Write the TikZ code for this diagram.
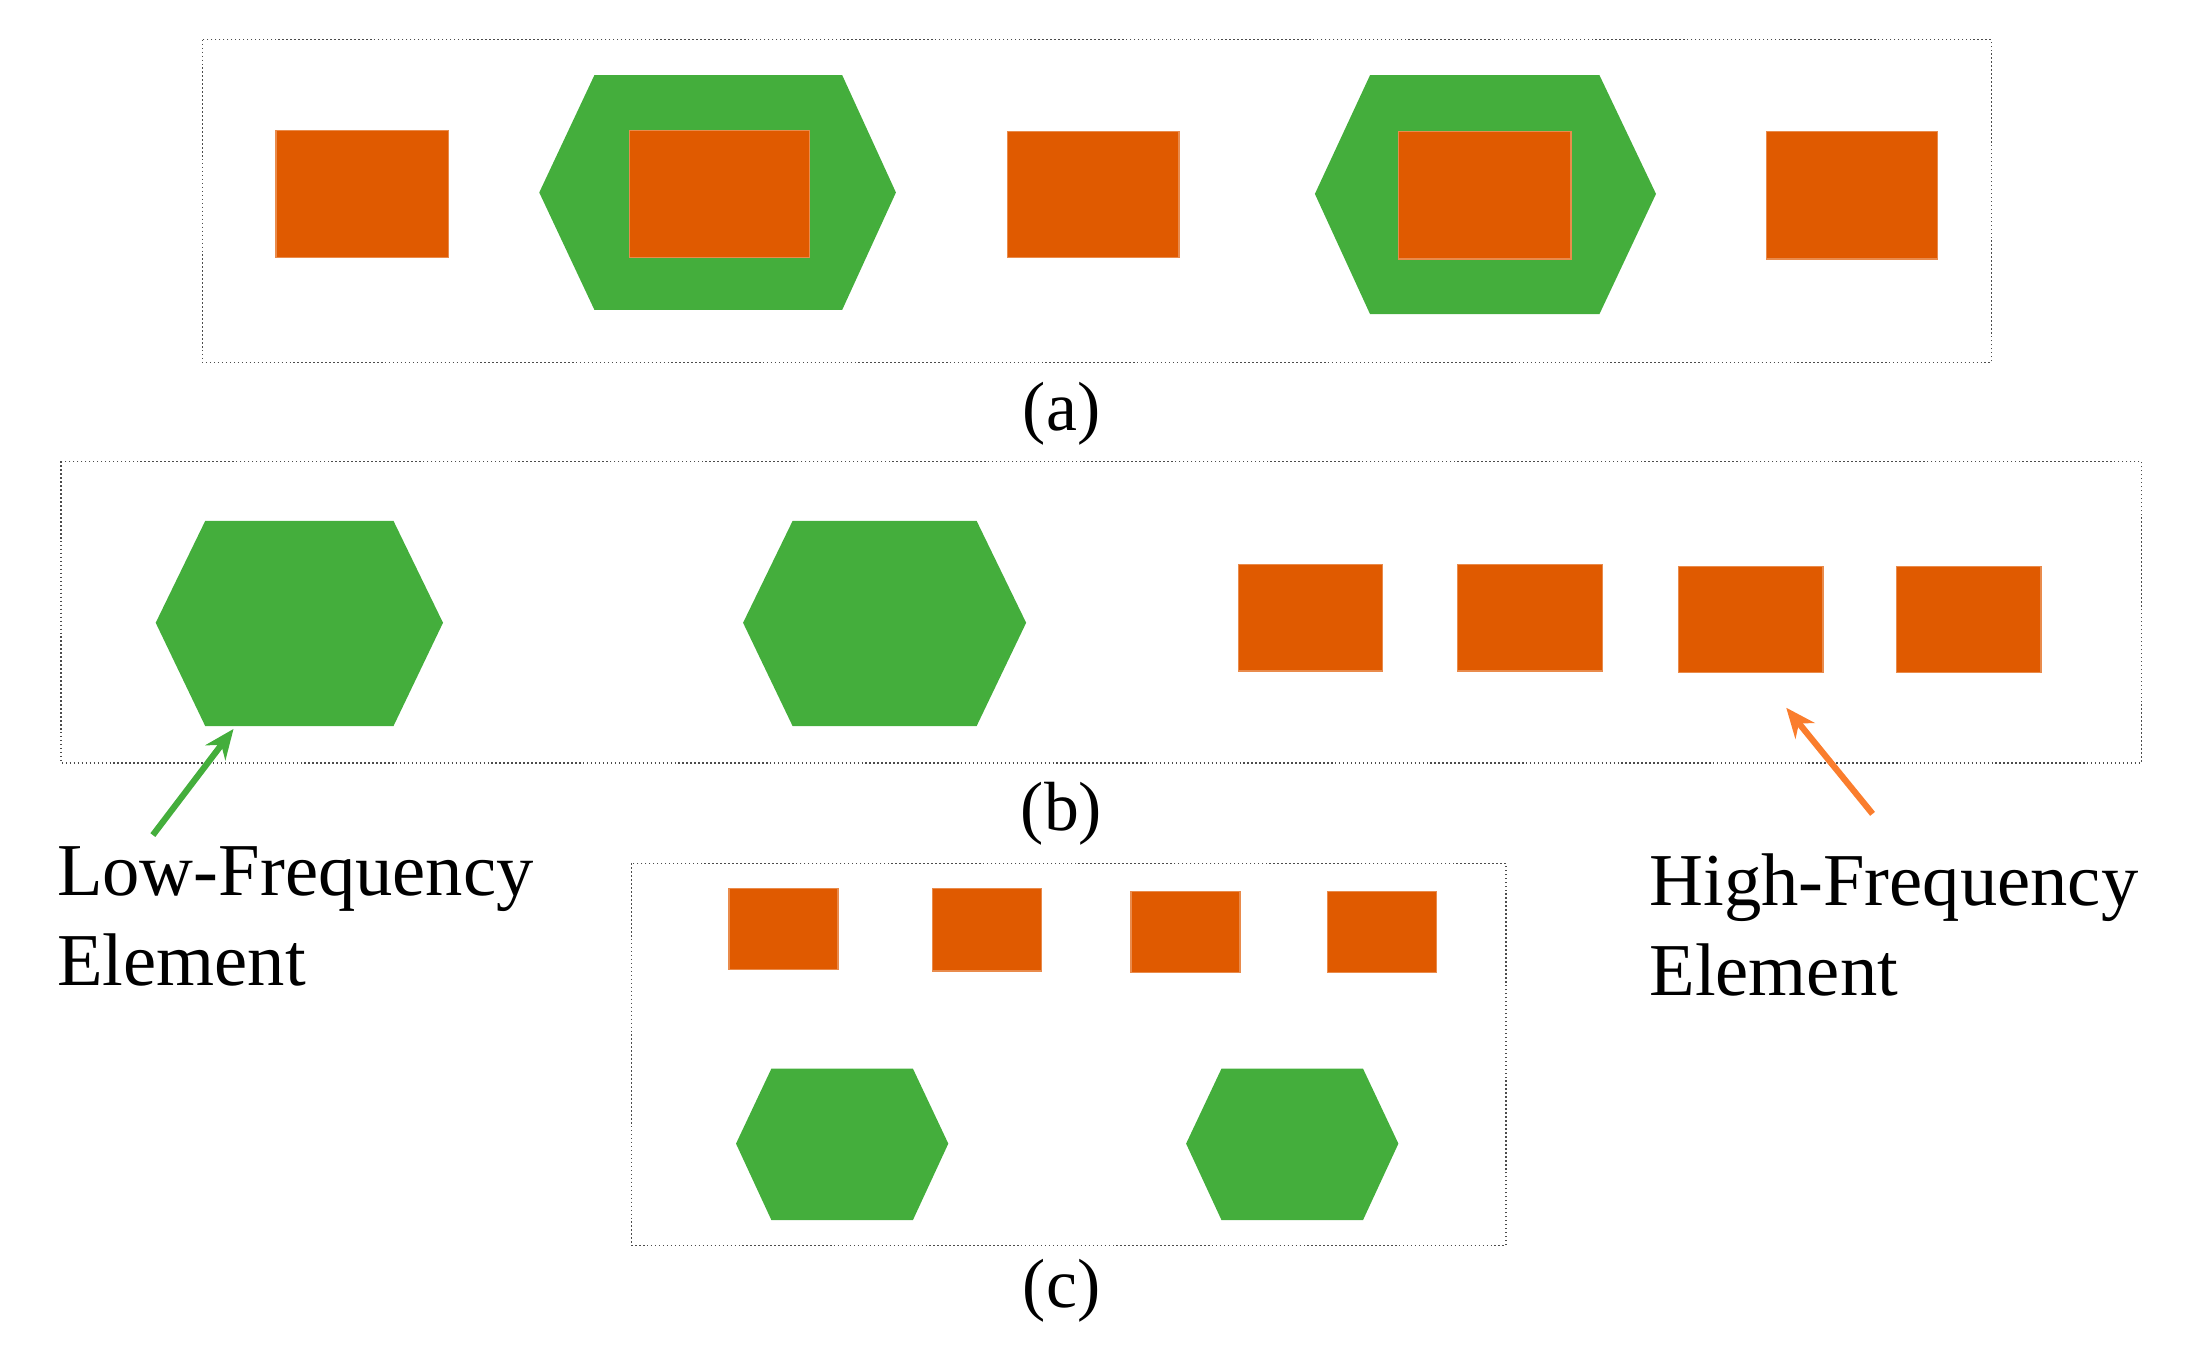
\documentclass[tikz,border=0pt]{standalone}
\usepackage{fontspec}
\setmainfont{Liberation Serif}
\usetikzlibrary{arrows.meta}
\definecolor{org}{RGB}{224,90,0}
\definecolor{grn}{RGB}{68,174,60}
\definecolor{oarr}{RGB}{250,125,45}
\begin{document}
\begin{tikzpicture}[x=0.02cm,y=-0.02cm,
  box/.style={draw=black!70,densely dotted,line width=0.6pt},
  sq/.style={fill=org,draw=org!70!white,line width=0.5pt},
  hx/.style={fill=grn},
  lab/.style={font=\fontsize{28}{28}\selectfont,inner sep=0},
  big/.style={font=\fontsize{30}{36}\selectfont,align=left,anchor=north west,inner sep=0}]
\useasboundingbox (0,0) rectangle (1560,951);
% (a)
\draw[box] (143,28) rectangle (1407,256);
\fill[sq] (195,92) rectangle (317,182);
\fill[hx] (381,136)--(420,53)--(595,53)--(633,136)--(595,219)--(420,219)--cycle;
\fill[sq] (445,92) rectangle (572,182);
\fill[sq] (712,93) rectangle (833,182);
\fill[hx] (929,137)--(968,53)--(1130,53)--(1170,137)--(1130,222)--(968,222)--cycle;
\fill[sq] (988,93) rectangle (1110,183);
\fill[sq] (1248,93) rectangle (1369,183);
\node[lab] (la) at (750,292) {(a)};
% (b)
\draw[box] (43,326) rectangle (1513,539);
\fill[hx] (110,440)--(145,368)--(278,368)--(313,440)--(278,513)--(145,513)--cycle;
\fill[hx] (525,440)--(560,368)--(690,368)--(725,440)--(690,513)--(560,513)--cycle;
\fill[sq] (875,399) rectangle (977,474);
\fill[sq] (1030,399) rectangle (1132,474);
\fill[sq] (1186,400) rectangle (1288,475);
\fill[sq] (1340,400) rectangle (1442,475);
\node[lab] (lb) at (750,575) {(b)};
\coordinate (g1) at (108,590); \coordinate (g2) at (165,515);
\coordinate (o1) at (1323,575); \coordinate (o2) at (1262,500);
\draw[grn,line width=2.5pt,-{Stealth[length=12pt,width=10pt]}] (g1)--(g2);
\draw[oarr,line width=2.5pt,-{Stealth[length=12pt,width=10pt]}] (o1)--(o2);
\node[big] (low) at (40,598) {Low-Frequency\\Element};
\node[big] (high) at (1165,603) {High-Frequency\\Element};
% (c)
\draw[box] (446,610) rectangle (1064,880);
\fill[sq] (515,628) rectangle (592,685);
\fill[sq] (659,628) rectangle (736,686);
\fill[sq] (799,630) rectangle (876,687);
\fill[sq] (938,630) rectangle (1015,687);
\fill[hx] (520,808)--(545,755)--(645,755)--(670,808)--(645,862)--(545,862)--cycle;
\fill[hx] (838,808)--(863,755)--(963,755)--(988,808)--(963,862)--(863,862)--cycle;
\node[lab] (lc) at (750,912) {(c)};
\end{tikzpicture}
\end{document}
